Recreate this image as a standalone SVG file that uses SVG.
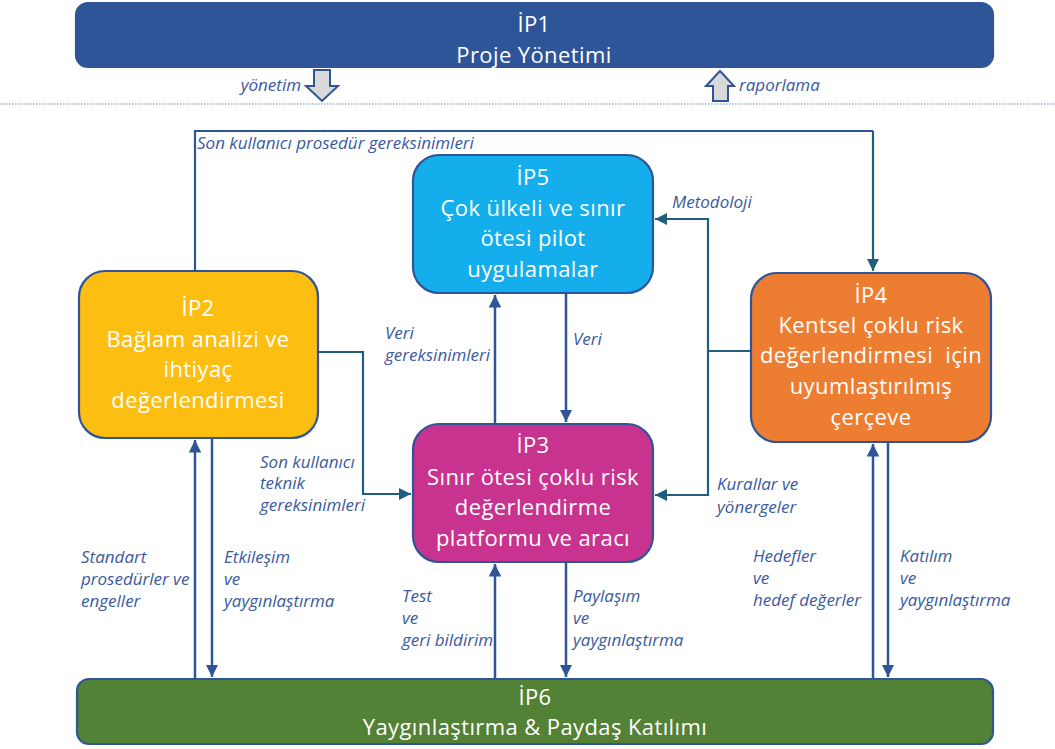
<svg xmlns="http://www.w3.org/2000/svg" width="1055" height="749" viewBox="0 0 1055 749">
<defs>
<style>
.box{stroke:#2F5597;stroke-width:2.2}
.bt{font-family:"Open Sans","Noto Sans",sans-serif;font-size:22px;letter-spacing:0.4px;fill:#ffffff;text-anchor:middle}
.lbl{font-family:"Open Sans","Noto Sans",sans-serif;font-size:17px;font-style:italic;fill:#3A5A9E}
.cb{fill:none;stroke:#2F5597;stroke-width:2.5}
.ct{fill:none;stroke:#1F5F7D;stroke-width:2.2}
.blk{fill:#D9D9D9;stroke:#2F5597;stroke-width:2;stroke-linejoin:miter}
</style>
<marker id="ab" viewBox="0 0 10 10" refX="10" refY="5" markerWidth="5" markerHeight="5" orient="auto" markerUnits="strokeWidth">
<path d="M0,0 L10,5 L0,10 z" fill="#2F5597"/>
</marker>
<marker id="at" viewBox="0 0 10 10" refX="10" refY="5" markerWidth="5.5" markerHeight="5.5" orient="auto" markerUnits="strokeWidth">
<path d="M0,0 L10,5 L0,10 z" fill="#1F5F7D"/>
</marker>
</defs>
<rect width="1055" height="749" fill="#ffffff"/>

<line x1="0" y1="104" x2="1055" y2="104" stroke="#8FB4D9" stroke-width="1.5" stroke-dasharray="1.5 1.5"/>

<g id="connectors">
<path class="blk" d="M314,70 L330,70 L330,86 L338,86 L322,101 L306,86 L314,86 Z"/>
<path class="blk" d="M713,101 L728,101 L728,86 L734,86 L720,71 L706,86 L713,86 Z"/>
<path d="M195,271 L195,131 L873,131" fill="none" stroke="#2F5597" stroke-width="2.2"/>
<path class="ct" d="M873,131 L873,271" marker-end="url(#at)"/>
<path class="ct" d="M318,352 L363,352 L363,494 L411,494" marker-end="url(#at)"/>
<path class="ct" d="M751,351 L708,351 L708,219 L655,219" marker-end="url(#at)"/>
<path class="ct" d="M708,351 L708,495 L655,495" marker-end="url(#at)"/>
<path class="cb" d="M495,424 L495,295" marker-end="url(#ab)"/>
<path class="cb" d="M566,293 L566,422" marker-end="url(#ab)"/>
<path class="cb" d="M195,679 L195,440" marker-end="url(#ab)"/>
<path class="cb" d="M212,438 L212,677" marker-end="url(#ab)"/>
<path class="cb" d="M495,679 L495,564" marker-end="url(#ab)"/>
<path class="cb" d="M566,562 L566,677" marker-end="url(#ab)"/>
<path class="cb" d="M873,679 L873,444" marker-end="url(#ab)"/>
<path class="cb" d="M888,442 L888,677" marker-end="url(#ab)"/>

<text class="lbl" x="301" y="91" text-anchor="end">yönetim</text>
<text class="lbl" x="739" y="91">raporlama</text>
<text class="lbl" x="197" y="149">Son kullanıcı prosedür gereksinimleri</text>
<text class="lbl" x="672" y="208">Metodoloji</text>
<text class="lbl" x="573" y="345">Veri</text>
<text class="lbl" x="385" y="339">Veri</text>
<text class="lbl" x="385" y="361">gereksinimleri</text>
<text class="lbl" x="260" y="468">Son kullanıcı</text>
<text class="lbl" x="260" y="489">teknik</text>
<text class="lbl" x="260" y="511">gereksinimleri</text>
<text class="lbl" x="717" y="490">Kurallar ve</text>
<text class="lbl" x="717" y="513">yönergeler</text>
<text class="lbl" x="81" y="563">Standart</text>
<text class="lbl" x="81" y="585">prosedürler ve</text>
<text class="lbl" x="81" y="607">engeller</text>
<text class="lbl" x="224" y="563">Etkileşim</text>
<text class="lbl" x="224" y="585">ve</text>
<text class="lbl" x="224" y="607">yaygınlaştırma</text>
<text class="lbl" x="402" y="602">Test</text>
<text class="lbl" x="402" y="624">ve</text>
<text class="lbl" x="402" y="646">geri bildirim</text>
<text class="lbl" x="573" y="602">Paylaşım</text>
<text class="lbl" x="573" y="624">ve</text>
<text class="lbl" x="573" y="646">yaygınlaştırma</text>
<text class="lbl" x="753" y="562">Hedefler</text>
<text class="lbl" x="753" y="584">ve</text>
<text class="lbl" x="753" y="606">hedef değerler</text>
<text class="lbl" x="900" y="562">Katılım</text>
<text class="lbl" x="900" y="584">ve</text>
<text class="lbl" x="900" y="606">yaygınlaştırma</text>
</g>

<g id="ip1">
<rect class="box" x="76" y="3" width="917" height="64" rx="12" fill="#2E5597"/>
<text class="bt" x="534" y="32">İP1</text>
<text class="bt" x="534" y="63">Proje Yönetimi</text>
</g>

<g id="ip2">
<rect class="box" x="79" y="271" width="239" height="167" rx="26" fill="#FDBE12"/>
<text class="bt" x="198" y="316">İP2</text>
<text class="bt" x="198" y="347">Bağlam analizi ve</text>
<text class="bt" x="198" y="377">ihtiyaç</text>
<text class="bt" x="198" y="408">değerlendirmesi</text>
</g>

<g id="ip5">
<rect class="box" x="413" y="155" width="240" height="138" rx="26" fill="#13AEEB"/>
<text class="bt" x="533" y="185">İP5</text>
<text class="bt" x="533" y="216">Çok ülkeli ve sınır</text>
<text class="bt" x="533" y="246">ötesi pilot</text>
<text class="bt" x="533" y="277">uygulamalar</text>
</g>

<g id="ip3">
<rect class="box" x="413" y="424" width="240" height="138" rx="26" fill="#C8338F"/>
<text class="bt" x="533" y="453">İP3</text>
<text class="bt" x="533" y="485">Sınır ötesi çoklu risk</text>
<text class="bt" x="533" y="515">değerlendirme</text>
<text class="bt" x="533" y="546">platformu ve aracı</text>
</g>

<g id="ip4">
<rect class="box" x="751" y="273" width="240" height="169" rx="26" fill="#ED7D31"/>
<text class="bt" x="871" y="303">İP4</text>
<text class="bt" x="871" y="333">Kentsel çoklu risk</text>
<text class="bt" x="871" y="363">değerlendirmesi&#160; için</text>
<text class="bt" x="871" y="394">uyumlaştırılmış</text>
<text class="bt" x="871" y="425">çerçeve</text>
</g>

<g id="ip6">
<rect class="box" x="77" y="679" width="916" height="65" rx="12" fill="#538135"/>
<text class="bt" x="535" y="705">İP6</text>
<text class="bt" x="535" y="735">Yaygınlaştırma &amp; Paydaş Katılımı</text>
</g>
</svg>
